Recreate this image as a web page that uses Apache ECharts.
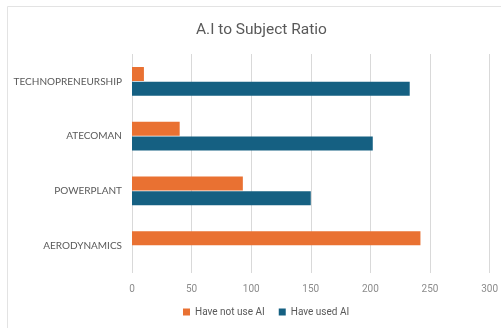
<!DOCTYPE html>
<html>
<head>
<meta charset="utf-8">
<script src="https://cdn.jsdelivr.net/npm/echarts@6/dist/echarts.min.js"></script>
<style>
  html, body { margin: 0; padding: 0; background: #fff; }
  #main { width: 501px; height: 328px; }
</style>
</head>
<body>
<div id="main"></div>
<script>
// subjects, bottom to top as drawn on the category axis
var subjects = ['AERODYNAMICS', 'POWERPLANT', 'ATECOMAN', 'TECHNOPRENEURSHIP'];
var notUsedAI = [242, 93, 40, 10];
var usedAI = [0, 150, 202, 233];
var xTicks = [0, 50, 100, 150, 200, 250, 300];

var chart = echarts.init(document.getElementById('main'));
chart.setOption({
  animation: false,
  title: {
    text: 'A.I to Subject Ratio',
    left: 191,
    top: 17,
    textStyle: { fontFamily: 'Roboto', fontSize: 15.5, fontWeight: 'normal', color: '#595959' }
  },
  graphic: [{
    type: 'rect',
    shape: { x: 7.5, y: 6.5, width: 500, height: 330 },
    style: { fill: 'none', stroke: '#e3e3e3', lineWidth: 1 },
    silent: true
  }],
  legend: {
    bottom: 6,
    left: 178,
    itemWidth: 7,
    itemHeight: 7,
    itemGap: 14,
    icon: 'rect',
    textStyle: { fontFamily: 'Roboto', fontSize: 10, color: '#595959' },
    data: ['Have not use AI', 'Have used AI']
  },
  grid: { left: 132, right: 11, top: 54, bottom: 55 },
  xAxis: {
    type: 'value',
    min: xTicks[0],
    max: xTicks[xTicks.length - 1],
    interval: 50,
    axisLine: { show: false },
    axisTick: { show: false },
    axisLabel: { color: '#8c8c8c', fontFamily: 'Roboto', fontSize: 10, margin: 11 },
    splitLine: { lineStyle: { color: '#d9d9d9' } }
  },
  yAxis: {
    type: 'category',
    data: subjects,
    axisLine: { show: false },
    axisTick: { show: false },
    axisLabel: { color: '#595959', fontFamily: 'Lato', fontSize: 10, margin: 10 }
  },
  series: [
    {
      name: 'Have not use AI',
      type: 'bar',
      data: notUsedAI,
      itemStyle: { color: '#E97132' },
      barWidth: 14,
      barGap: '5%'
    },
    {
      name: 'Have used AI',
      type: 'bar',
      data: usedAI,
      itemStyle: { color: '#156082' },
      barWidth: 14,
      barGap: '5%'
    }
  ]
});
</script>
</body>
</html>
